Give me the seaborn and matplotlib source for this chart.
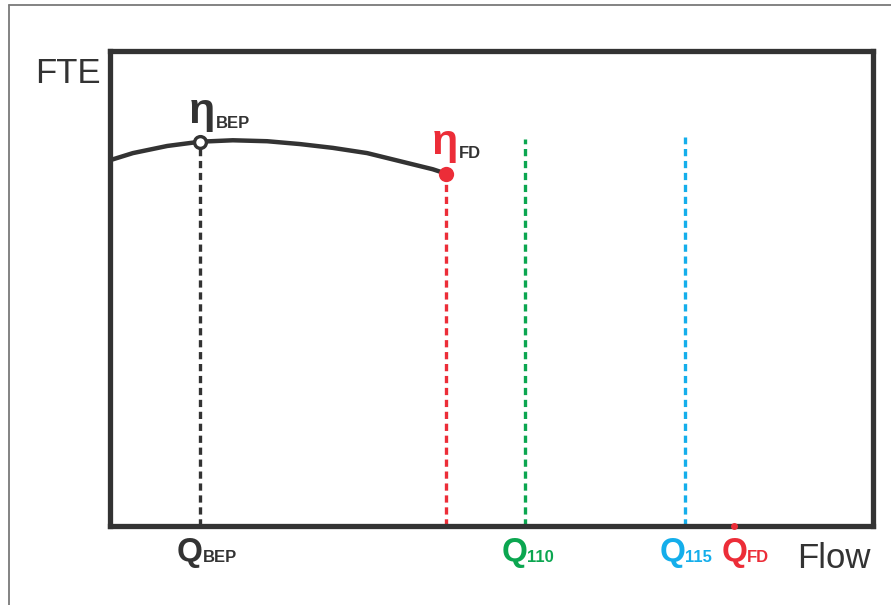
import matplotlib
matplotlib.use("Agg")
import matplotlib.pyplot as plt
from matplotlib.lines import Line2D
import seaborn as sns
import pandas as pd

# Flow / efficiency curve (axis units: 0-100 along each axis)
curve_flow = [0.0, 3.0, 7.5, 11.8, 16.1, 20.6, 24.9, 29.2, 33.7, 38.0, 42.3, 44.0]
curve_fte = [76.9, 78.4, 79.9, 80.8, 81.1, 80.9, 80.3, 79.5, 78.4, 76.7, 75.0, 74.1]

# Reference flows
q_bep = 11.8
q_eta_fd = 44.0
q_110 = 54.4
q_115 = 75.4
q_fd = 81.8

# Efficiency values at marked points and dashed-line heights
eta_bep = 80.8
eta_fd = 74.1
top_110 = 81.4
top_115 = 81.8

DARK = "#333333"
RED = "#EC2D38"
GREEN = "#0BA650"
BLUE = "#14AEEB"

sns.set_theme(style="white")
plt.rcParams["font.family"] = ["Liberation Sans", "DejaVu Sans"]
plt.rcParams["lines.scale_dashes"] = False

W, H = 891, 605
fig = plt.figure(figsize=(W / 100, H / 100), dpi=100)
fig.patch.set_facecolor("white")

# thin outer frame (top and left edges)
fig.add_artist(Line2D([9 / W, 9 / W], [0, 1 - 5 / H], color="#7a7a7a", lw=1.3))
fig.add_artist(Line2D([9 / W, 1.0], [1 - 5 / H, 1 - 5 / H], color="#7a7a7a", lw=1.3))

left, right, top, bottom = 110, 873, 50.5, 525.5
ax = fig.add_axes([left / W, 1 - bottom / H, (right - left) / W, (bottom - top) / H])
ax.set_xlim(0, 100)
ax.set_ylim(0, 100)
ax.set_xticks([])
ax.set_yticks([])
for sp in ax.spines.values():
    sp.set_visible(True)
    sp.set_color(DARK)
    sp.set_linewidth(3.8)

dash = (0, (5.2, 3.4))
ax.plot([q_bep, q_bep], [0, eta_bep], color=DARK, lw=2.4, linestyle=dash, zorder=2)
ax.plot([q_eta_fd, q_eta_fd], [0, eta_fd], color=RED, lw=2.4, linestyle=dash, zorder=2)
ax.plot([q_110, q_110], [0, top_110], color=GREEN, lw=2.4, linestyle=dash, zorder=2)
ax.plot([q_115, q_115], [0, top_115], color=BLUE, lw=2.4, linestyle=dash, zorder=2)

df = pd.DataFrame({"flow": curve_flow, "fte": curve_fte})
sns.lineplot(data=df, x="flow", y="fte", sort=False, color=DARK, lw=3.2, ax=ax, zorder=3)
ax.set_xlabel("")
ax.set_ylabel("")

ax.plot([q_bep], [eta_bep], marker="o", ms=8.5, mfc="white", mec=DARK, mew=2.4, zorder=5, clip_on=False)
ax.plot([q_eta_fd], [eta_fd], marker="o", ms=11, mfc=RED, mec=RED, mew=0, zorder=5, clip_on=False)
ax.plot([q_fd], [0], marker="o", ms=5, mfc=RED, mec=RED, mew=0, zorder=6, clip_on=False)

PX = 0.72  # points per pixel


def label(x, y, main, sub, main_color, sub_color, main_size, sub_size,
          dx_main, dy_main, dx_sub, dy_sub):
    ax.annotate(main, xy=(x, y), xycoords="data", xytext=(dx_main * PX, dy_main * PX),
                textcoords="offset points", ha="center", va="baseline",
                fontsize=main_size, fontweight="bold", color=main_color,
                annotation_clip=False)
    ax.annotate(sub, xy=(x, y), xycoords="data", xytext=(dx_sub * PX, dy_sub * PX),
                textcoords="offset points", ha="left", va="baseline",
                fontsize=sub_size, fontweight="bold", color=sub_color,
                annotation_clip=False)


# Flow labels under the axis
base_q = -(561 - bottom)
label(q_bep, 0, "Q", "BEP", DARK, DARK, 24, 12, -10, base_q, 3, base_q - 1)
label(q_110, 0, "Q", "110", GREEN, GREEN, 24, 12, -11, base_q, 2, base_q - 1)
label(q_115, 0, "Q", "115", BLUE, BLUE, 24, 12, -12.5, base_q, 0, base_q - 1)
label(q_fd, 0, "Q", "FD", RED, RED, 24, 12, 0, base_q, 13, base_q - 1)

# Efficiency labels above the curve points
label(q_bep, eta_bep, "η", "BEP", DARK, DARK, 31, 12, 2, 18.5, 16, 13.5)
label(q_eta_fd, eta_fd, "η", "FD", RED, DARK, 31, 12, -1, 20, 13, 16)

# Axis titles
fig.text(35 / W, 1 - 83 / H, "FTE", fontsize=25, color=DARK, ha="left", va="baseline")
fig.text(797 / W, 1 - 568 / H, "Flow", fontsize=25, color=DARK, ha="left", va="baseline")

fig.savefig("out.png", dpi=100, facecolor="white")
